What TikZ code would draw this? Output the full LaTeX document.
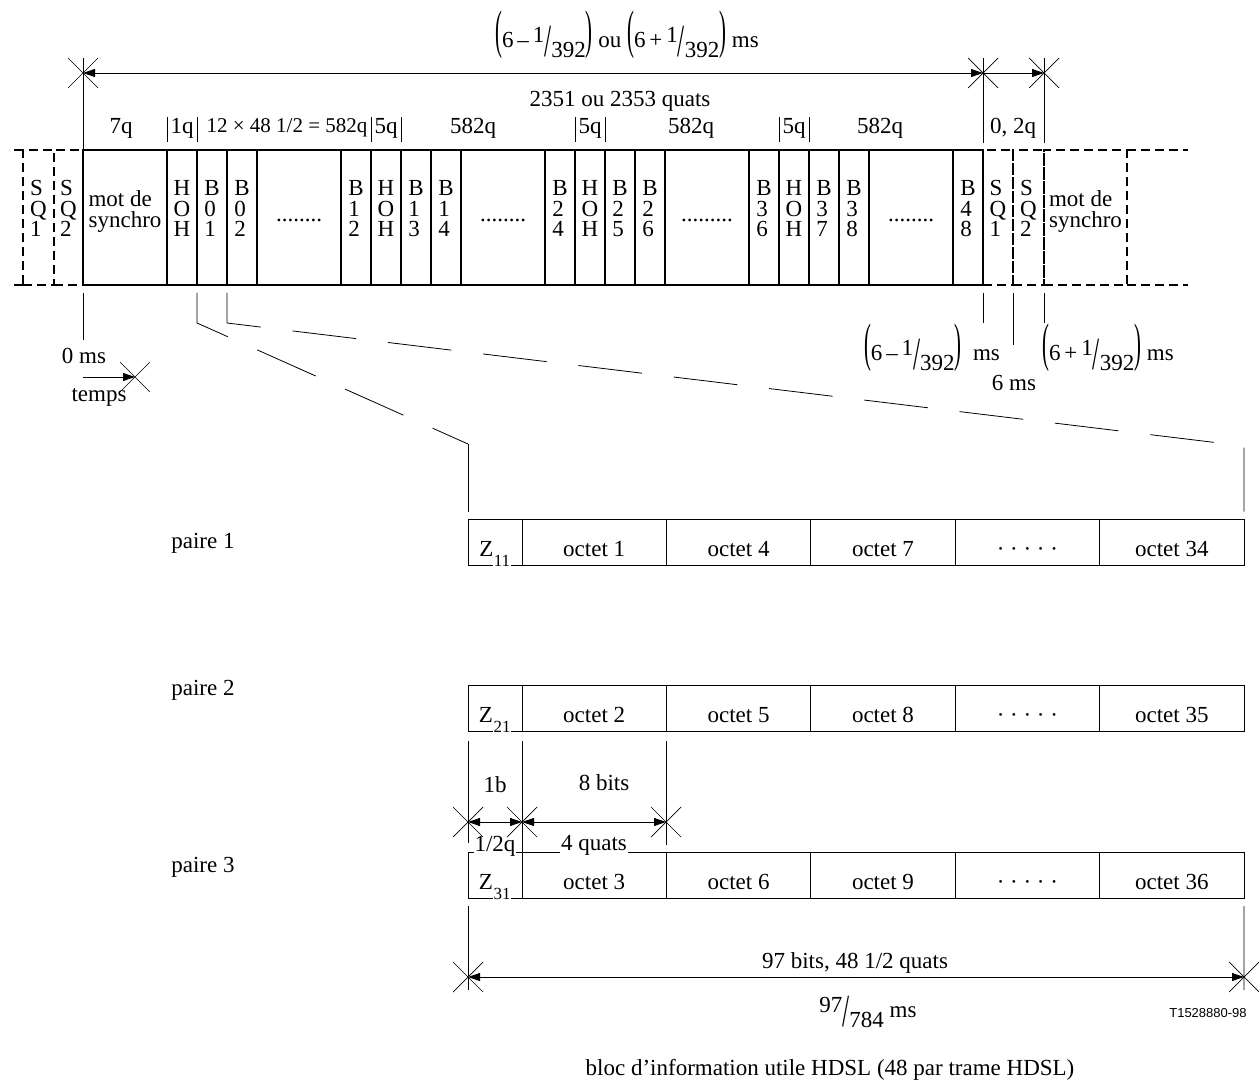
\documentclass[tikz,border=0pt]{standalone}
\usepackage{fontspec}
\setmainfont{Liberation Serif}
\setsansfont{Liberation Sans}
\usetikzlibrary{arrows.meta, positioning, shapes.misc}

\newcommand\lp{\scalebox{0.9}[2.3]{(}}
\newcommand\rp{\scalebox{0.9}[2.3]{)}}
\newcommand\slf[2]{\raisebox{0.5ex}{#1}\raisebox{-0.8ex}{\scalebox{1.1}[2.0]{/}}\raisebox{-0.95ex}{#2}}
\newcommand\stk[1]{\smash{\raisebox{0pt}{\begin{tabular}{@{}l@{}}#1\end{tabular}}}}
\newcommand\dts[1]{\smash{\raisebox{-4pt}{#1}}}
\newcommand\zsub[1]{Z\raisebox{-10pt}{\fontsize{17}{17}\selectfont\fboxsep=0.5pt\colorbox{white}{#1}}}

\begin{document}
\begin{tikzpicture}[x=1pt, y=-1pt, font=\fontsize{23}{17.3}\selectfont,
  >={Triangle[length=12pt, width=8pt]},
  fcell/.style={draw, line width=1.2pt, minimum height=135pt, inner sep=0pt, outer sep=0pt},
  ncell/.style={fcell, minimum width=30pt},
  wcell/.style={fcell, minimum width=84pt},
  dashline/.style={line width=1.2pt, dash pattern=on 9pt off 5pt},
  sqcell/.style={ncell, dashline},
  bcell/.style={draw, line width=1pt, minimum height=46pt, inner sep=0pt, outer sep=0pt, text height=28pt, text depth=0pt},
  zcell/.style={bcell, minimum width=54pt},
  octet/.style={bcell, minimum width=144.4pt},
  crossmark/.style={draw, cross out, line width=0.7pt, minimum size=30pt, inner sep=0pt, outer sep=0pt},
  dimline/.style={line width=0.8pt},
  qbar/.style={line width=0.8pt},
  zoomline/.style={line width=0.8pt, dash pattern=on 64pt off 32pt}]

   \useasboundingbox (0,0) rectangle (1259,1083);

   % HDSL frame
   \node[wcell, anchor=north west] (sync) at (83,150) {\stk{mot de\\synchro}};
   \node[ncell, right=0pt of sync] (hoh1) {\stk{H\\O\\H}};
   \node[ncell, right=0pt of hoh1] (b01) {\stk{B\\0\\1}};
   \node[ncell, right=0pt of b01] (b02) {\stk{B\\0\\2}};
   \node[wcell, right=0pt of b02] (dots1) {\dts{........}};
   \node[ncell, right=0pt of dots1] (b12) {\stk{B\\1\\2}};
   \node[ncell, right=0pt of b12] (hoh2) {\stk{H\\O\\H}};
   \node[ncell, right=0pt of hoh2] (b13) {\stk{B\\1\\3}};
   \node[ncell, right=0pt of b13] (b14) {\stk{B\\1\\4}};
   \node[wcell, right=0pt of b14] (dots2) {\dts{........}};
   \node[ncell, right=0pt of dots2] (b24) {\stk{B\\2\\4}};
   \node[ncell, right=0pt of b24] (hoh3) {\stk{H\\O\\H}};
   \node[ncell, right=0pt of hoh3] (b25) {\stk{B\\2\\5}};
   \node[ncell, right=0pt of b25] (b26) {\stk{B\\2\\6}};
   \node[wcell, right=0pt of b26] (dots3) {\dts{.........}};
   \node[ncell, right=0pt of dots3] (b36) {\stk{B\\3\\6}};
   \node[ncell, right=0pt of b36] (hoh4) {\stk{H\\O\\H}};
   \node[ncell, right=0pt of hoh4] (b37) {\stk{B\\3\\7}};
   \node[ncell, right=0pt of b37] (b38) {\stk{B\\3\\8}};
   \node[wcell, right=0pt of b38] (dots4) {\dts{........}};
   \node[ncell, right=0pt of dots4] (b48) {\stk{B\\4\\8}};

   % neighbouring frames (dashed)
   \node[sqcell, minimum width=29pt, left=0pt of sync] (sq2) {\stk{S\\Q\\2}};
   \node[sqcell, minimum width=31pt, left=0pt of sq2] (sq1) {\stk{S\\Q\\1}};
   \draw[dashline] (sq1.north west) -- ++(-14,0);
   \draw[dashline] (sq1.south west) -- ++(-14,0);
   \node[sqcell, right=0pt of b48] (sq1r) {\stk{S\\Q\\1}};
   \node[sqcell, minimum width=31pt, right=0pt of sq1r] (sq2r) {\stk{S\\Q\\2}};
   \node[wcell, dashline, minimum width=83pt, right=0pt of sq2r] (syncr) {\stk{mot de\\synchro}};
   \draw[dashline] (syncr.north east) -- ++(61,0);
   \draw[dashline] (syncr.south east) -- ++(61,0);

   % lengths above the frame
   \node (l7q) at (121,128) {7q};
   \node (l1q) at ([yshift=22pt]hoh1.north) {1q};
   \node[font=\fontsize{21}{21}\selectfont] (l582a) at (287,128) {12 × 48 1/2 = 582q};
   \node (l5qa) at ([yshift=22pt]hoh2.north) {5q};
   \node (l582b) at (473,128) {582q};
   \node (l5qb) at ([yshift=22pt]hoh3.north) {5q};
   \node (l582c) at (691,128) {582q};
   \node (l5qc) at ([yshift=22pt]hoh4.north) {5q};
   \node (l582d) at (880,128) {582q};
   \node (l02q) at (1013,128) {0, 2q};
   \draw[qbar] ([yshift=8pt]hoh1.north west) -- ++(0,-25);
   \draw[qbar] ([yshift=8pt]hoh1.north east) -- ++(0,-25);
   \draw[qbar] ([yshift=8pt]hoh2.north west) -- ++(0,-25);
   \draw[qbar] ([yshift=8pt]hoh2.north east) -- ++(0,-25);
   \draw[qbar] ([yshift=8pt]hoh3.north west) -- ++(0,-25);
   \draw[qbar] ([yshift=8pt]hoh3.north east) -- ++(0,-25);
   \draw[qbar] ([yshift=8pt]hoh4.north west) -- ++(0,-25);
   \draw[qbar] ([yshift=8pt]hoh4.north east) -- ++(0,-25);

   \node (quats) at (620,101) {2351 ou 2353 quats};
   \node (frametime) at (627,35) {\lp6\,–\,\slf{1}{392}\rp{} ou \lp6\,+\,\slf{1}{392}\rp{} ms};

   \node[crossmark] (t0) at (83,73) {};
   \node[crossmark] (t1) at (983,73) {};
   \node[crossmark] (t2) at (1044,73) {};
   \draw[dimline] (t0.north) -- (sync.north west);
   \draw[dimline] (t1.north) -- ([yshift=7pt]b48.north east);
   \draw[dimline] (t2.north) -- ([yshift=7pt]sq2r.north east);
   \draw[dimline, <->] (t0.center) -- (t1.center);
   \draw[dimline, ->] (t1.center) -- (t2.center);

   % times below the frame
   \draw[dimline] ([yshift=-8pt]sync.south west) -- ++(0,47);
   \node (zero) at (84,356) {0 ms};
   \coordinate (tstart) at (83,377);
   \node[crossmark] (tz) at (135,377) {};
   \draw[dimline, ->] (tstart) -- (tz.center);
   \node (temps) at (99,397) {temps};

   \draw[dimline] ([yshift=-8pt]b48.south east) -- ++(0,30);
   \draw[dimline] ([yshift=-8pt]sq1r.south east) -- ++(0,52);
   \draw[dimline] ([yshift=-8pt]sq2r.south east) -- ++(0,30);
   \node (tminus) at (932,348) {\lp6\,–\,\slf{1}{392}\rp\enspace ms};
   \node (tplus) at (1108,348) {\lp6\,+\,\slf{1}{392}\rp{} ms};
   \node (tsix) at (1014,383) {6 ms};

   % information block, one row per pair
   \node (p1) at (203,543) {paire 1};
   \node[zcell, anchor=north west] (z11) at (468,519) {\zsub{11}};
   \node[octet, right=0pt of z11] (o1) {octet 1};
   \node[octet, right=0pt of o1] (o4) {octet 4};
   \node[octet, right=0pt of o4] (o7) {octet 7};
   \node[octet, right=0pt of o7] (od1) {· · · · ·};
   \node[octet, right=0pt of od1] (o34) {octet 34};

   \node (p2) at (203,690) {paire 2};
   \node[zcell, anchor=north west] (z21) at (468,685) {\zsub{21}};
   \node[octet, right=0pt of z21] (o2) {octet 2};
   \node[octet, right=0pt of o2] (o5) {octet 5};
   \node[octet, right=0pt of o5] (o8) {octet 8};
   \node[octet, right=0pt of o8] (od2) {· · · · ·};
   \node[octet, right=0pt of od2] (o35) {octet 35};

   \node (p3) at (203,867) {paire 3};
   \node[zcell, anchor=north west] (z31) at (468,852) {\zsub{31}};
   \node[octet, right=0pt of z31] (o3) {octet 3};
   \node[octet, right=0pt of o3] (o6) {octet 6};
   \node[octet, right=0pt of o6] (o9) {octet 9};
   \node[octet, right=0pt of o9] (od3) {· · · · ·};
   \node[octet, right=0pt of od3] (o36) {octet 36};

   % zoom from the frame
   \draw[zoomline] ([yshift=-8pt]b01.south west) -- ++(0,30) -- ([yshift=75pt]z11.north west);
   \draw[dimline] ([yshift=75pt]z11.north west) -- ([yshift=7pt]z11.north west);
   \draw[zoomline] ([yshift=-8pt]b02.south west) -- ++(0,30) -- ([yshift=73pt]o34.north east) -- ([yshift=7pt]o34.north east);

   % bit and octet lengths
   \draw[dimline] ([yshift=-10pt]z21.south west) -- ([yshift=9pt]z31.north west);
   \draw[dimline] ([yshift=-10pt]z21.south east) -- (z31.north east);
   \draw[dimline] ([yshift=-10pt]o2.south east) -- ([yshift=7pt]o3.north east);
   \node (l1b) at (495,785) {1b};
   \node (l8bits) at (604,783) {8 bits};
   \node[fill=white, inner sep=1pt] (lhalfq) at (495,846) {1/2q};
   \node[fill=white, inner sep=1pt] (l4quats) at (594,845) {4 quats};
   \node[crossmark] (m0) at (468,822) {};
   \node[crossmark] (m1) at (522,822) {};
   \node[crossmark] (m2) at (666,822) {};
   \draw[dimline, <->] (m0.center) -- (m1.center);
   \draw[dimline, <->] (m1.center) -- (m2.center);

   % whole block
   \node[crossmark] (e0) at (468,977) {};
   \node[crossmark] (e1) at (1244,977) {};
   \draw[dimline] ([yshift=-8pt]z31.south west) -- ([yshift=-13pt]e0.center);
   \draw[dimline] ([yshift=-8pt]o36.south east) -- ([yshift=-13pt]e1.center);
   \draw[dimline, <->] (e0.center) -- (e1.center);
   \node (bits) at (855,963) {97 bits, 48 1/2 quats};
   \node (btime) at (868,1012) {\slf{97}{784} ms};
   \node[font=\sffamily\fontsize{13}{13}\selectfont] (refno) at (1208,1013) {T1528880-98};
   \node (caption) at (830,1070) {bloc d’information utile HDSL (48 par trame HDSL)};

\end{tikzpicture}
\end{document}
